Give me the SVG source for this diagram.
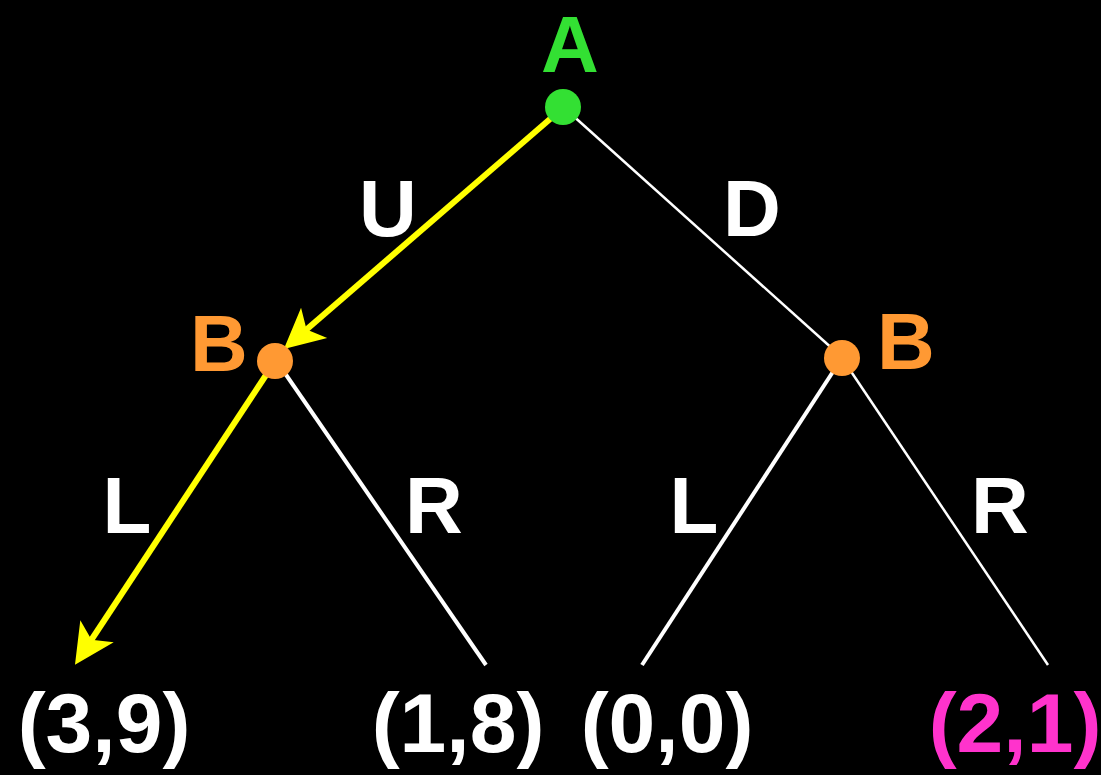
<svg xmlns="http://www.w3.org/2000/svg" width="1101" height="775" viewBox="0 0 1101 775">
<style>
.t{font-family:"Liberation Sans",Arial,sans-serif;font-weight:bold;text-anchor:middle}
.w{fill:#ffffff}
.lbl{font-size:80px}
.pay{font-size:84px}
.edge{stroke:#ffffff;fill:none}
.hl{stroke:#ffff00;stroke-width:6;fill:none}
</style>
<defs>
<marker id="ah" markerUnits="userSpaceOnUse" viewBox="-22 -22 44 44" markerWidth="44" markerHeight="44" refX="0" refY="0" orient="auto">
<path d="M20,0 L-20,-20 L-10,0 L-20,20 Z" fill="#ffff00"/>
</marker>
</defs>
<rect width="1101" height="775" fill="#000000"/>
<g id="connectors">
<line class="edge" stroke-width="2.5" x1="570" y1="113" x2="835" y2="351"/>
<line class="edge" stroke-width="4" x1="280" y1="366" x2="486" y2="665"/>
<line class="edge" stroke-width="4" x1="838" y1="364" x2="642" y2="665"/>
<line class="edge" stroke-width="2.5" x1="846" y1="364" x2="1048" y2="665"/>
<line class="hl" x1="557" y1="113" x2="299" y2="336" marker-end="url(#ah)"/>
<line class="hl" x1="272" y1="366" x2="86" y2="648" marker-end="url(#ah)"/>
</g>
<g id="nodeA">
<circle cx="563" cy="107" r="18" fill="#33e033"/>
<text class="t lbl" x="570" y="72" fill="#33e033">A</text>
</g>
<g id="nodeB1">
<circle cx="275" cy="361" r="18" fill="#ff9933"/>
<text class="t lbl" x="219" y="371" fill="#ff9933">B</text>
</g>
<g id="nodeB2">
<circle cx="842" cy="358" r="18" fill="#ff9933"/>
<text class="t lbl" x="906" y="369" fill="#ff9933">B</text>
</g>
<g id="edgeLabels">
<text class="t lbl w" x="388" y="236">U</text>
<text class="t lbl w" x="752" y="236">D</text>
<text class="t lbl w" x="127" y="533">L</text>
<text class="t lbl w" x="434" y="533">R</text>
<text class="t lbl w" x="694" y="533">L</text>
<text class="t lbl w" x="1000" y="533">R</text>
</g>
<g id="leaf1"><text class="t pay w" x="104" y="752">(3,9)</text></g>
<g id="leaf2"><text class="t pay w" x="458" y="752">(1,8)</text></g>
<g id="leaf3"><text class="t pay w" x="667" y="752">(0,0)</text></g>
<g id="leaf4"><text class="t pay" x="1015" y="752" fill="#ff33cc">(2,1)</text></g>
</svg>
